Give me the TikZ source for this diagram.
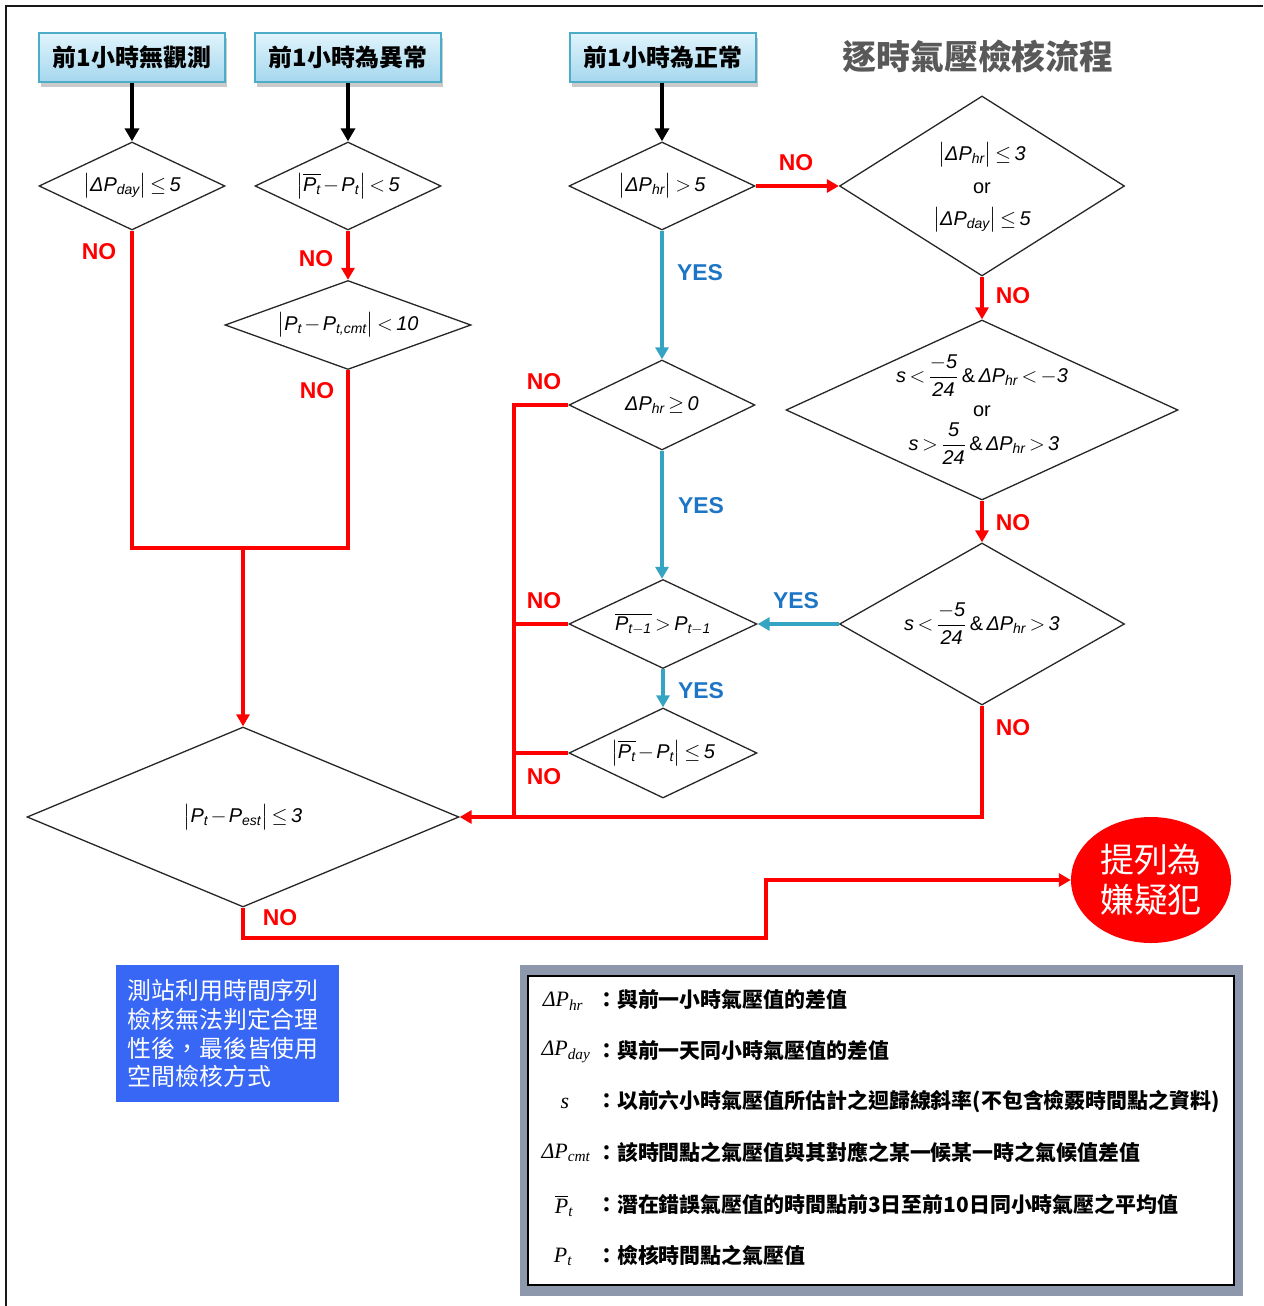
\documentclass[tikz,border=0pt]{standalone}
\usepackage{fontspec}
\usepackage{amsmath}
\setmainfont{Liberation Sans}
\newfontfamily\cjk{Noto Sans CJK TC}
\newfontfamily\lgfont{Liberation Serif}
\usetikzlibrary{shapes.geometric,arrows.meta,shadows,calc}
\definecolor{myred}{HTML}{FF0000}
\definecolor{tealc}{HTML}{35A4C3}
\definecolor{yesblue}{HTML}{1C75C5}
\definecolor{boxtop}{HTML}{E0F4FC}
\definecolor{boxbot}{HTML}{A5D7EE}
\definecolor{boxedge}{HTML}{4DADC8}
\definecolor{titlegray}{HTML}{595959}
\definecolor{noteblue}{HTML}{3767F4}
\definecolor{legframe}{HTML}{8E98AD}
\newcommand{\mt}[1]{\text{\itshape #1}}
\newcommand{\lgm}[1]{\text{\lgfont\itshape #1}}
\newcommand{\tightmath}{\thickmuskip=3mu plus 1mu\medmuskip=2mu}
\tikzset{
 startbox/.style={draw=boxedge, line width=1.2bp, top color=boxtop, bottom color=boxbot,
   minimum width=186bp, minimum height=49bp, inner sep=0pt,
   font=\cjk\bfseries\fontsize{24}{28}\selectfont,
   drop shadow={opacity=0.35, shadow xshift=2bp, shadow yshift=-5bp, fill=black!60}},
 dia/.style={diamond, draw=black!85, line width=1.3bp, inner sep=0pt, fill=white},
 cond/.style={font=\fontsize{20}{24}\selectfont\tightmath, align=center, inner sep=0pt},
 blackarrow/.style={draw=black, line width=4bp, -{Triangle[length=13bp,width=14bp]}},
 redline/.style={draw=myred, line width=3.5bp},
 redarrow/.style={redline, -{Triangle[length=12bp,width=13bp]}},
 tealarrow/.style={draw=tealc, line width=3.5bp, -{Triangle[length=12bp,width=13bp]}},
 nolab/.style={text=myred, font=\bfseries\fontsize{23}{27}\selectfont},
 yeslab/.style={text=yesblue, font=\bfseries\fontsize{23}{27}\selectfont},
 legsym/.style={font=\fontsize{22}{26}\selectfont, inner sep=0pt},
 legtxt/.style={font=\cjk\bfseries\fontsize{21}{25}\selectfont, anchor=west, inner sep=0pt},
}
\begin{document}
\begin{tikzpicture}[x=1bp,y=-1bp]
\useasboundingbox (0,0) rectangle (1263,1306);
% outer frame (left and top edges)
\draw[line width=2.5bp, black!90] (6,1306) -- (6,6) -- (1263,6);

% start boxes
\node[startbox] (b1) at (132,57.5) {前1小時無觀測};
\node[startbox] (b2) at (348,57.5) {前1小時為異常};
\node[startbox] (b3) at (663,57.5) {前1小時為正常};
\node[text=titlegray, font=\cjk\bfseries\fontsize{34}{40}\selectfont] (title) at (978,56) {逐時氣壓檢核流程};

% diamonds
\node[dia, minimum width=186bp, minimum height=88bp] (d1) at (132,186) {};
\node[dia, minimum width=186bp, minimum height=88bp] (d2) at (348,186) {};
\node[dia, minimum width=186bp, minimum height=88bp] (d3) at (662,186) {};
\node[dia, minimum width=285bp, minimum height=180bp] (d4) at (982,186) {};
\node[dia, minimum width=246bp, minimum height=89bp] (d5) at (348,325) {};
\node[dia, minimum width=186bp, minimum height=90bp] (d6) at (662,405) {};
\node[dia, minimum width=392bp, minimum height=180bp] (d7) at (982,410) {};
\node[dia, minimum width=188bp, minimum height=89bp] (d8) at (663,624) {};
\node[dia, minimum width=285bp, minimum height=162bp] (d9) at (982,624) {};
\node[dia, minimum width=188bp, minimum height=90bp] (d10) at (663,753) {};
\node[dia, minimum width=432bp, minimum height=180bp] (d11) at (243,817) {};

% diamond texts
\node[cond] (t1) at (d1) {$\bigl|\mt{ΔP}_{\mt{day}}\bigr|\le\mt{5}$};
\node[cond] (t2) at (d2) {$\bigl|\overline{\mt{P}_{\mt{t}}}-\mt{P}_{\mt{t}}\bigr|<\mt{5}$};
\node[cond] (t3) at (d3) {$\bigl|\mt{ΔP}_{\mt{hr}}\bigr|>\mt{5}$};
\node[cond] (t4a) at (982,155) {$\bigl|\mt{ΔP}_{\mt{hr}}\bigr|\le\mt{3}$};
\node[cond] (t4b) at (982,188) {or};
\node[cond] (t4c) at (982,220) {$\bigl|\mt{ΔP}_{\mt{day}}\bigr|\le\mt{5}$};
\node[cond] (t5) at (d5) {$\bigl|\mt{P}_{\mt{t}}-\mt{P}_{\mt{t,cmt}}\bigr|<\mt{10}$};
\node[cond] (t6) at (d6) {$\mt{ΔP}_{\mt{hr}}\ge\mt{0}$};
\node[cond] (t7a) at (982,376) {$\mt{s}<\dfrac{-\mt{5}}{\mt{24}}\,\&\,\mt{ΔP}_{\mt{hr}}<-\mt{3}$};
\node[cond] (t7b) at (982,411) {or};
\node[cond] (t7c) at (984,444) {$\mt{s}>\dfrac{\mt{5}}{\mt{24}}\,\&\,\mt{ΔP}_{\mt{hr}}>\mt{3}$};
\node[cond] (t8) at (d8) {$\overline{\mt{P}_{\mt{t}-\mt{1}}}>\mt{P}_{\mt{t}-\mt{1}}$};
\node[cond] (t9) at (d9) {$\mt{s}<\dfrac{-\mt{5}}{\mt{24}}\,\&\,\mt{ΔP}_{\mt{hr}}>\mt{3}$};
\node[cond] (t10) at (d10) {$\bigl|\overline{\mt{P}_{\mt{t}}}-\mt{P}_{\mt{t}}\bigr|\le\mt{5}$};
\node[cond] (t11) at (d11) {$\bigl|\mt{P}_{\mt{t}}-\mt{P}_{\mt{est}}\bigr|\le\mt{3}$};

% result ellipse
\node[ellipse, fill=myred, minimum width=160bp, minimum height=126bp, inner sep=0pt,
      text=white, align=center, font=\cjk\fontsize{34}{40}\selectfont] (ell) at (1151,880) {提列為\\嫌疑犯};

% black arrows
\draw[blackarrow] (b1.south) -- (d1.north);
\draw[blackarrow] (b2.south) -- (d2.north);
\draw[blackarrow] (b3.south -| d3.north) -- (d3.north);

% left branch
\coordinate (j1) at (243,548);
\draw[redline] (d1.south) |- (j1);
\draw[redline] (d5.south) |- (j1);
\draw[redarrow] (j1) -- (d11.north);
\draw[redarrow] (d2.south) -- (d5.north);

% right branch
\draw[redarrow] (d3.east) -- (d4.west);
\draw[tealarrow] (d3.south) -- (d6.north);
\draw[tealarrow] (d6.south) -- (d6.south |- d8.north);
\draw[tealarrow] (d8.south) -- (d10.north);
\draw[tealarrow] (d9.west) -- (d8.east);
\draw[redarrow] (d4.south) -- (d7.north);
\draw[redarrow] (d7.south) -- (d9.north);
\coordinate (j2) at (514,817);
\draw[redline] (d6.west) -| (j2);
\draw[redline] (d8.west) -- (d8.west -| j2);
\draw[redline] (d10.west) -- (d10.west -| j2);
\draw[redarrow] (d9.south) |- (d11.east);
\coordinate (k1) at (766,938);
\draw[redarrow] (d11.south) |- (k1) |- (ell.west);

% labels
\node[nolab] (n1) at (99,252) {NO};
\node[nolab] (n2) at (316,259) {NO};
\node[nolab] (n3) at (317,391) {NO};
\node[nolab] (n4) at (796,163) {NO};
\node[nolab] (n5) at (1013,296) {NO};
\node[nolab] (n6) at (1013,523) {NO};
\node[nolab] (n7) at (1013,728) {NO};
\node[nolab] (n8) at (544,382) {NO};
\node[nolab] (n9) at (544,601) {NO};
\node[nolab] (n10) at (544,777) {NO};
\node[nolab] (n11) at (280,918) {NO};
\node[yeslab] (y1) at (700,273) {YES};
\node[yeslab] (y2) at (701,506) {YES};
\node[yeslab] (y3) at (701,691) {YES};
\node[yeslab] (y4) at (796,601) {YES};

% note box
\node[fill=noteblue, minimum width=223bp, minimum height=137bp, text width=200bp, align=left,
      inner sep=0pt, text=white, font=\cjk\fontsize{24}{29}\selectfont] (note) at (227.5,1033.5)
      {測站利用時間序列\\檢核無法判定合理\\性後，最後皆使用\\空間檢核方式};

% legend
\node[fill=legframe, minimum width=723bp, minimum height=331bp, inner sep=0pt] (legf) at (881.5,1130.5) {};
\node[draw=black, line width=1.5bp, fill=white, minimum width=706bp, minimum height=309bp, inner sep=0pt] (legi) at (881,1130.5) {};
\node[legsym] (s1) at (563,1001) {$\lgm{ΔP}_{\lgm{hr}}$};
\node[legtxt] (x1) at (596,1000) {：與前一小時氣壓值的差值};
\node[legsym] (s2) at (566,1052) {$\lgm{ΔP}_{\lgm{day}}$};
\node[legtxt] (x2) at (596,1051) {：與前一天同小時氣壓值的差值};
\node[legsym] (s3) at (565,1103) {$\lgm{s}$};
\node[legtxt] (x3) at (596,1102) {：以前六小時氣壓值所估計之迴歸線斜率(不包含檢覈時間點之資料)};
\node[legsym] (s4) at (566,1153) {$\lgm{ΔP}_{\lgm{cmt}}$};
\node[legtxt] (x4) at (596,1152) {：該時間點之氣壓值與其對應之某一候某一時之氣候值差值};
\node[legsym] (s5) at (564,1206) {$\overline{\lgm{P}}_{\lgm{t}}$};
\node[legtxt] (x5) at (596,1204) {：潛在錯誤氣壓值的時間點前3日至前10日同小時氣壓之平均值};
\node[legsym] (s6) at (563,1257) {$\lgm{P}_{\lgm{t}}$};
\node[legtxt] (x6) at (596,1255) {：檢核時間點之氣壓值};
\end{tikzpicture}
\end{document}
